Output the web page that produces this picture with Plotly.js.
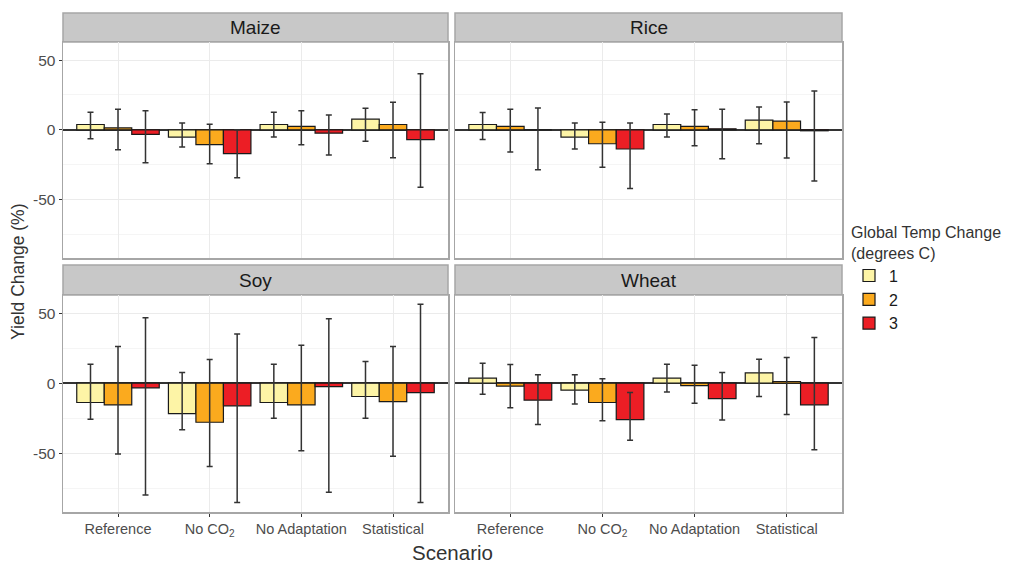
<!DOCTYPE html>
<html>
<head>
<meta charset="utf-8">
<script src="https://cdn.plot.ly/plotly-3.0.1.min.js"></script>
<style>html,body{margin:0;padding:0;background:#fff;}#chart{width:1027px;height:568px;}</style>
</head>
<body>
<div id="chart"></div>
<script>
// ---- data ----
const scenarios = ["Reference", "No CO<sub>2</sub>", "No Adaptation", "Statistical"];
const tempLevels = ["1", "2", "3"];
const crops = ["Maize", "Rice", "Soy", "Wheat"];

// rows: temp change 1, 2, 3 ; columns: scenarios
const maizeMean = [[3.8, -5.2, 3.8, 7.6], [1.4, -10.7, 2.4, 3.8], [-3.3, -17.1, -2.4, -7.1]];
const maizeHigh = [[12.6, 4.8, 12.6, 15.5], [14.8, 4.0, 13.6, 19.8], [13.6, 0.0, 10.7, 40.2]];
const maizeLow  = [[-6.4, -12.4, -5.2, -8.3], [-14.3, -24.3, -10.7, -20.0], [-23.6, -34.5, -18.1, -41.2]];

const riceMean = [[3.8, -5.2, 3.8, 6.9], [2.4, -10.0, 2.4, 6.2], [0.0, -13.8, 0.7, -0.7]];
const riceHigh = [[12.4, 4.8, 11.4, 16.4], [14.8, 5.5, 14.3, 20.0], [15.7, 4.8, 14.8, 27.9]];
const riceLow  = [[-6.9, -13.8, -5.2, -10.0], [-16.0, -26.9, -11.4, -20.2], [-28.6, -42.1, -20.7, -36.7]];

const soyMean = [[-13.8, -21.7, -13.8, -9.5], [-15.5, -27.9, -15.5, -13.1], [-3.3, -16.2, -2.4, -6.7]];
const soyHigh = [[13.6, 7.6, 13.6, 15.5], [26.2, 16.9, 27.1, 26.2], [46.7, 35.2, 46.0, 56.4]];
const soyLow  = [[-25.7, -33.3, -25.0, -25.0], [-50.5, -59.5, -48.3, -52.1], [-79.8, -85.2, -77.9, -85.2]];

const wheatMean = [[3.6, -5.0, 3.6, 7.4], [-2.1, -13.8, -1.7, 1.2], [-12.1, -26.0, -11.0, -15.5]];
const wheatHigh = [[14.3, 6.0, 13.6, 17.1], [13.3, 3.1, 12.9, 18.3], [6.0, -6.7, 7.6, 32.6]];
const wheatLow  = [[-7.9, -14.8, -6.2, -9.5], [-17.6, -26.9, -14.3, -22.4], [-29.5, -40.7, -26.2, -47.6]];

const yTickVals = [-50, 0, 50];
const yTickText = ["-50", "0", "50"];

// ---- styling ----
const colors = ["#FDF4A6", "#FBAA1E", "#EC1E25"];
const W = 1027, H = 568;
const font = "Liberation Sans, Arial, sans-serif";

const cropData = [
  [maizeMean, maizeHigh, maizeLow],
  [riceMean, riceHigh, riceLow],
  [soyMean, soyHigh, soyLow],
  [wheatMean, wheatHigh, wheatLow]
];

const xDomains = [[63 / W, 448 / W], [455 / W, 842 / W]];
const yDomains = [[1 - 258 / H, 1 - 42 / H], [1 - 512 / H, 1 - 295 / H]];

const traces = [];
cropData.forEach((cd, p) => {
  const [mean, high, low] = cd;
  const ax = p === 0 ? "" : String(p + 1);
  tempLevels.forEach((t, k) => {
    traces.push({
      type: "bar",
      x: scenarios,
      y: mean[k],
      name: t,
      legendgroup: t,
      showlegend: p === 0,
      xaxis: "x" + ax,
      yaxis: "y" + ax,
      marker: { color: colors[k], line: { color: "#1a1a1a", width: 1.2 } },
      error_y: {
        type: "data",
        symmetric: false,
        array: high[k].map((h, i) => h - mean[k][i]),
        arrayminus: mean[k].map((m, i) => m - low[k][i]),
        color: "#333333",
        thickness: 1.5,
        width: 3
      },
      hoverinfo: "skip"
    });
  });
});

const layout = {
  width: W, height: H,
  margin: { l: 0, r: 0, t: 0, b: 0 },
  paper_bgcolor: "#ffffff",
  plot_bgcolor: "#ffffff",
  font: { family: font, color: "#333333" },
  barmode: "group",
  bargap: 0.1,
  bargroupgap: 0,
  showlegend: true,
  legend: {
    x: 849 / W, y: 1 - 217 / H, xanchor: "left", yanchor: "top",
    title: { text: "Global Temp Change<br>(degrees C)", font: { size: 16, color: "#333333", family: font }, side: "top" },
    font: { size: 16, color: "#1a1a1a", family: font },
    bgcolor: "rgba(0,0,0,0)",
    tracegroupgap: 0,
    itemwidth: 30
  },
  shapes: [],
  annotations: []
};

for (let p = 0; p < 4; p++) {
  const col = p % 2, row = Math.floor(p / 2);
  const ax = p === 0 ? "" : String(p + 1);
  layout["xaxis" + ax] = {
    domain: xDomains[col],
    anchor: "y" + ax,
    type: "category",
    categoryorder: "array",
    categoryarray: scenarios,
    range: [-0.6, 3.6],
    showgrid: true, gridcolor: "#EBEBEB", gridwidth: 1,
    showline: true, mirror: true, linecolor: "#A6A6A6", linewidth: 1.5,
    showticklabels: row === 1,
    ticks: row === 1 ? "outside" : "",
    ticklen: 3, tickcolor: "#333333", tickwidth: 1,
    tickfont: { size: 14.5, color: "#4D4D4D", family: font },
    fixedrange: true
  };
  layout["yaxis" + ax] = {
    domain: yDomains[row],
    anchor: "x" + ax,
    range: [-92, 63],
    tickvals: yTickVals,
    ticktext: yTickText,
    showgrid: true, gridcolor: "#EBEBEB", gridwidth: 1,
    minor: { tickvals: [-75, -25, 25], showgrid: true, gridcolor: "#F5F5F5", gridwidth: 1 },
    zeroline: true, zerolinecolor: "#333333", zerolinewidth: 1.6,
    showline: true, mirror: true, linecolor: "#A6A6A6", linewidth: 1.5,
    showticklabels: col === 0,
    ticks: col === 0 ? "outside" : "",
    ticklen: 3, tickcolor: "#333333", tickwidth: 1,
    tickfont: { size: 15.5, color: "#4D4D4D", family: font },
    fixedrange: true
  };
  // facet strip
  const stripY = row === 0 ? [1 - 42 / H, 1 - 13 / H] : [1 - 295 / H, 1 - 265 / H];
  layout.shapes.push({
    type: "rect", xref: "paper", yref: "paper",
    x0: xDomains[col][0], x1: xDomains[col][1], y0: stripY[0], y1: stripY[1],
    fillcolor: "#C8C8C8", line: { color: "#A6A6A6", width: 1.5 }, layer: "below"
  });
  layout.annotations.push({
    text: crops[p], xref: "paper", yref: "paper",
    x: (xDomains[col][0] + xDomains[col][1]) / 2, y: (stripY[0] + stripY[1]) / 2,
    xanchor: "center", yanchor: "middle", showarrow: false,
    font: { size: 19, color: "#1a1a1a", family: font }
  });
}

layout.annotations.push({
  text: "Yield Change (%)", xref: "paper", yref: "paper",
  x: 18 / W, y: 1 - 272 / H, textangle: -90, showarrow: false,
  xanchor: "center", yanchor: "middle",
  font: { size: 17.5, color: "#333333", family: font }
});
layout.annotations.push({
  text: "Scenario", xref: "paper", yref: "paper",
  x: 452 / W, y: 1 - 552 / H, showarrow: false,
  xanchor: "center", yanchor: "middle",
  font: { size: 20.5, color: "#333333", family: font }
});

Plotly.newPlot("chart", traces, layout, { displayModeBar: false, staticPlot: true });
</script>
</body>
</html>
